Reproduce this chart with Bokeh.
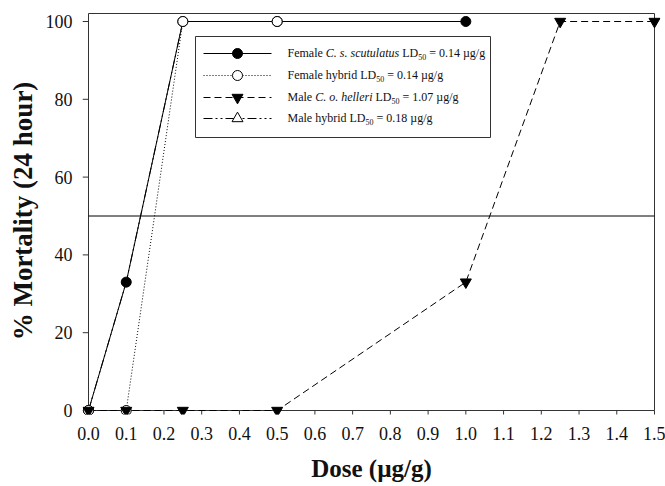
from bokeh.plotting import figure
from bokeh.models import Range1d, FixedTicker, NumeralTickFormatter, ColumnDataSource
from bokeh.core.properties import value
from bokeh.embed import file_html
from bokeh.resources import INLINE

# ---------------- data ----------------
dose_ticks = [0.0, 0.1, 0.2, 0.3, 0.4, 0.5, 0.6, 0.7, 0.8, 0.9, 1.0, 1.1, 1.2, 1.3, 1.4, 1.5]
mort_ticks = [0, 20, 40, 60, 80, 100]

fcs_dose = [0.0, 0.1, 0.25, 0.5, 1.0]             # Female C. s. scutulatus
fcs_mort = [0, 33, 100, 100, 100]
fhy_dose = [0.0, 0.1, 0.25, 0.5]                  # Female hybrid
fhy_mort = [0, 0, 100, 100]
mch_dose = [0.0, 0.1, 0.25, 0.5, 1.0, 1.25, 1.5]  # Male C. o. helleri
mch_mort = [0, 0, 0, 0, 33, 100, 100]
mhy_dose = [0.0, 0.1, 0.25, 0.5]                  # Male hybrid (hidden under the others)
mhy_mort = [0, 33, 100, 100]
ld50_level = 50

NB = "\u00a0"
legend_rows = [
    [("Female" + NB, "n"), ("C. s. scutulatus", "i"), (NB + "LD", "n"), ("50", "s"), (NB + "=" + NB + "0.14" + NB + "\u00b5g/g", "n")],
    [("Female" + NB + "hybrid" + NB + "LD", "n"), ("50", "s"), (NB + "=" + NB + "0.14" + NB + "\u00b5g/g", "n")],
    [("Male" + NB, "n"), ("C. o. helleri", "i"), (NB + "LD", "n"), ("50", "s"), (NB + "=" + NB + "1.07" + NB + "\u00b5g/g", "n")],
    [("Male" + NB + "hybrid" + NB + "LD", "n"), ("50", "s"), (NB + "=" + NB + "0.18" + NB + "\u00b5g/g", "n")],
]

# ---------------- geometry ----------------
W, H = 665, 486
FL, FR, FT, FB = 88, 654, 13, 410     # pixel edges of the axes box
X0, X1 = 0.0, 1.5
PPX = (FR - FL) / (X1 - X0)
PPY = (FB - 21) / 100.0
YTOP = (FB - FT) / PPY
PADX, PADT, PADB = 6, 6, 4   # frame padding so edge markers are not clipped
TICK = 6                      # tick length in px

def px2x(px):
    return X0 + (px - FL) / PPX

def py2y(py):
    return (FB - py) / PPY

FONT = "Liberation Serif"
AXC = "#333333"

p = figure(width=W, height=H,
           x_range=Range1d(X0 - PADX / PPX, X1 + PADX / PPX),
           y_range=Range1d(-PADB / PPY, YTOP + PADT / PPY),
           output_backend="svg", toolbar_location=None,
           min_border_left=FL - PADX, min_border_right=W - FR - PADX,
           min_border_top=FT - PADT, min_border_bottom=H - FB - PADB)
p.outline_line_color = None
p.xgrid.visible = False
p.ygrid.visible = False
p.background_fill_color = "white"
p.border_fill_color = "white"

for ax in (p.xaxis[0], p.yaxis[0]):
    ax.axis_line_color = None
    ax.major_tick_line_color = None
    ax.minor_tick_line_color = None
    ax.major_tick_in = 0
    ax.major_tick_out = 0
    ax.major_label_text_font = FONT
    ax.major_label_text_font_size = "18px"
    ax.major_label_text_color = "#111111"
    ax.axis_label_text_font = FONT
    ax.axis_label_text_font_style = "bold"
    ax.axis_label_text_color = "#111111"

p.xaxis[0].ticker = FixedTicker(ticks=dose_ticks)
p.xaxis[0].formatter = NumeralTickFormatter(format="0.0")
p.yaxis[0].ticker = FixedTicker(ticks=mort_ticks)
p.xaxis[0].major_label_standoff = 12
p.yaxis[0].major_label_standoff = 10
p.yaxis[0].axis_label = "% Mortality (24 hour)"
p.yaxis[0].axis_label_text_font_size = "27px"
p.yaxis[0].axis_label_standoff = 5
p.xaxis[0].axis_label = "Dose (\u00b5g/g)"
p.xaxis[0].axis_label_text_font_size = "25px"
p.xaxis[0].axis_label_standoff = 12

# axis lines, frame top & right (drawn inside the padded frame)
p.segment(x0=[X0, X0, X0, X1], y0=[0, 0, YTOP, 0], x1=[X1, X0, X1, X1], y1=[0, YTOP, YTOP, YTOP],
          line_color=AXC, line_width=1)
# ticks
p.segment(x0=dose_ticks, y0=[0] * len(dose_ticks), x1=dose_ticks,
          y1=[-TICK / PPY] * len(dose_ticks), line_color=AXC, line_width=1)
p.segment(x0=[X0] * len(mort_ticks), y0=mort_ticks, x1=[X0 - TICK / PPX] * len(mort_ticks),
          y1=mort_ticks, line_color=AXC, line_width=1)
# LD50 reference line
p.segment(x0=[X0], y0=[ld50_level], x1=[X1], y1=[ld50_level], line_color="black", line_width=1)

# ---------------- series ----------------
styles = {
    "mhy": dict(dash="9 3 2 3 2 3", marker="triangle", fill="white", size=7),
    "fcs": dict(dash="solid", marker="circle", fill="black", size=10),
    "fhy": dict(dash="1 2", marker="circle", fill="white", size=10),
    "mch": dict(dash="7 4", marker="inverted_triangle", fill="black", size=11),
}
series = [("mhy", mhy_dose, mhy_mort), ("fcs", fcs_dose, fcs_mort),
          ("fhy", fhy_dose, fhy_mort), ("mch", mch_dose, mch_mort)]

for key, xs, ys in series:
    st = styles[key]
    p.line(xs, ys, line_color="black", line_width=1, line_dash=st["dash"])
for key, xs, ys in series:
    st = styles[key]
    p.scatter(xs, ys, marker=st["marker"], size=st["size"], fill_color=st["fill"],
              line_color="black", line_width=1)

# ---------------- legend ----------------
p.quad(left=[px2x(195)], right=[px2x(490)], top=[py2y(36)], bottom=[py2y(137)],
       fill_color="white", line_color=AXC, line_width=1)

row_py = [53, 75, 97, 118]
leg_styles = [
    dict(dash="solid", marker="circle", fill="black", size=10),
    dict(dash="1 2", marker="circle", fill="white", size=10),
    dict(dash="7 4", marker="inverted_triangle", fill="black", size=11),
    dict(dash="9 3 2 3 2 3", marker="triangle", fill="white", size=11),
]
for py, st in zip(row_py, leg_styles):
    p.segment(x0=[px2x(203)], y0=[py2y(py)], x1=[px2x(271)], y1=[py2y(py)],
              line_color="black", line_width=1, line_dash=st["dash"])
    p.scatter([px2x(237)], [py2y(py)], marker=st["marker"], size=st["size"],
              fill_color=st["fill"], line_color="black", line_width=1)

ROMAN = {NB: 250, ' ': 250, 'F': 556, 'e': 444, 'm': 778, 'a': 444, 'l': 278, 'h': 500, 'y': 500,
         'b': 500, 'r': 333, 'i': 278, 'd': 500, 'M': 889, 'L': 611, 'D': 722, '=': 564,
         '.': 250, '\u00b5': 576, 'g': 500, '/': 278}
ITAL = {'C': 667, '.': 250, ' ': 250, 's': 389, 'c': 444, 'u': 500, 't': 278, 'l': 278,
        'a': 500, 'o': 500, 'h': 500, 'e': 444, 'r': 389, 'i': 278}

def width(text, table, size):
    return sum(table.get(ch, 500) for ch in text) * size / 1000.0

MAIN, SUB = 12, 8
tx = px2x(287)
groups = {k: dict(x=[], y=[], t=[], xo=[], yo=[]) for k in ("n", "i", "s")}
for py, row in zip(row_py, legend_rows):
    off = 0.0
    for txt, kind in row:
        g = groups[kind]
        g["x"].append(tx); g["y"].append(py2y(py)); g["t"].append(txt)
        g["xo"].append(off); g["yo"].append(3 if kind == "s" else -1)
        if kind == "n":
            off += width(txt, ROMAN, MAIN)
        elif kind == "i":
            off += width(txt, ITAL, MAIN)
        else:
            off += width(txt, ROMAN, SUB)

for kind, g in groups.items():
    src = ColumnDataSource(dict(x=g["x"], y=g["y"], t=g["t"], xo=g["xo"], yo=g["yo"]))
    p.text(x="x", y="y", text="t", x_offset="xo", y_offset="yo", source=src,
           text_font=value(FONT), text_font_style=("italic" if kind == "i" else "normal"),
           text_font_size=("%dpx" % (SUB if kind == "s" else MAIN)),
           text_baseline="middle", text_align="left", text_color="#111111")

open("out.html", "w").write(file_html(p, INLINE))
